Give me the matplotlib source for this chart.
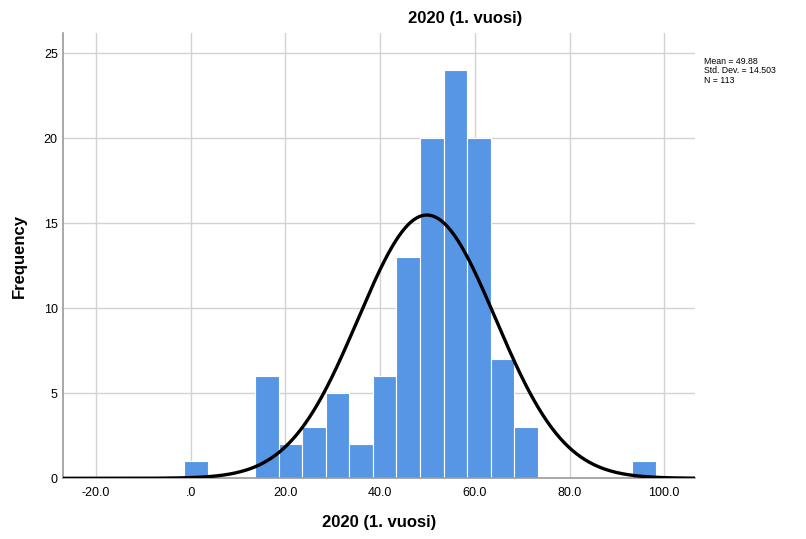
import numpy as np
import matplotlib.pyplot as plt

plt.rcParams['font.family'] = ['Liberation Sans', 'DejaVu Sans']

# histogram bins (SPSS style, width ~4.98)
bin_left = [-1.36, 13.58, 18.56, 23.54, 28.52, 33.50, 38.48, 43.46,
            48.44, 53.42, 58.40, 63.38, 68.36, 93.26]
counts = [1, 6, 2, 3, 5, 2, 6, 13, 20, 24, 20, 7, 3, 1]
bin_width = 4.98

mean = 49.88
std = 14.503
n = 113

x_ticks = [-20, 0, 20, 40, 60, 80, 100]
x_tick_labels = ["-20.0", ".0", "20.0", "40.0", "60.0", "80.0", "100.0"]
y_ticks = [0, 5, 10, 15, 20, 25]

fig = plt.figure(figsize=(8.06, 5.39), dpi=100)
ax = fig.add_axes([0.0785, 0.1126, 0.7838, 0.8267])

ax.set_axisbelow(True)
ax.grid(True, color="#d2d2d2", linewidth=1.0)

ax.bar(bin_left, counts, width=bin_width, align="edge",
       color="#5796e5", edgecolor="white", linewidth=0.8, zorder=2)

xs = np.linspace(-27, 107, 600)
pdf = n * bin_width / (std * np.sqrt(2 * np.pi)) * np.exp(-0.5 * ((xs - mean) / std) ** 2)
ax.plot(xs, pdf, color="black", linewidth=2.4, zorder=3, solid_capstyle="butt")

ax.set_xlim(-26.9, 106.5)
ax.set_ylim(0, 26.2)
ax.set_xticks(x_ticks)
ax.set_xticklabels(x_tick_labels)
ax.set_yticks(y_ticks)
ax.tick_params(length=0, labelsize=9, colors="black")
ax.tick_params(axis="x", pad=6)
ax.tick_params(axis="y", pad=4)

for side in ["top", "right"]:
    ax.spines[side].set_visible(False)
for side in ["left", "bottom"]:
    ax.spines[side].set_color("#9a9a9a")
    ax.spines[side].set_linewidth(1.2)

ax.set_xlabel("2020 (1. vuosi)", fontsize=12, fontweight="bold", labelpad=12)
ax.set_ylabel("Frequency", fontsize=12, fontweight="bold", labelpad=12)

fig.text(465 / 806, 1 - 18 / 539, "2020 (1. vuosi)", fontsize=12,
         fontweight="bold", ha="center", va="center")
fig.text(704 / 806, 1 - 57 / 539, "Mean = 49.88\nStd. Dev. = 14.503\nN = 113",
         fontsize=6.3, ha="left", va="top", linespacing=1.05)

fig.savefig("out.png", dpi=100)
